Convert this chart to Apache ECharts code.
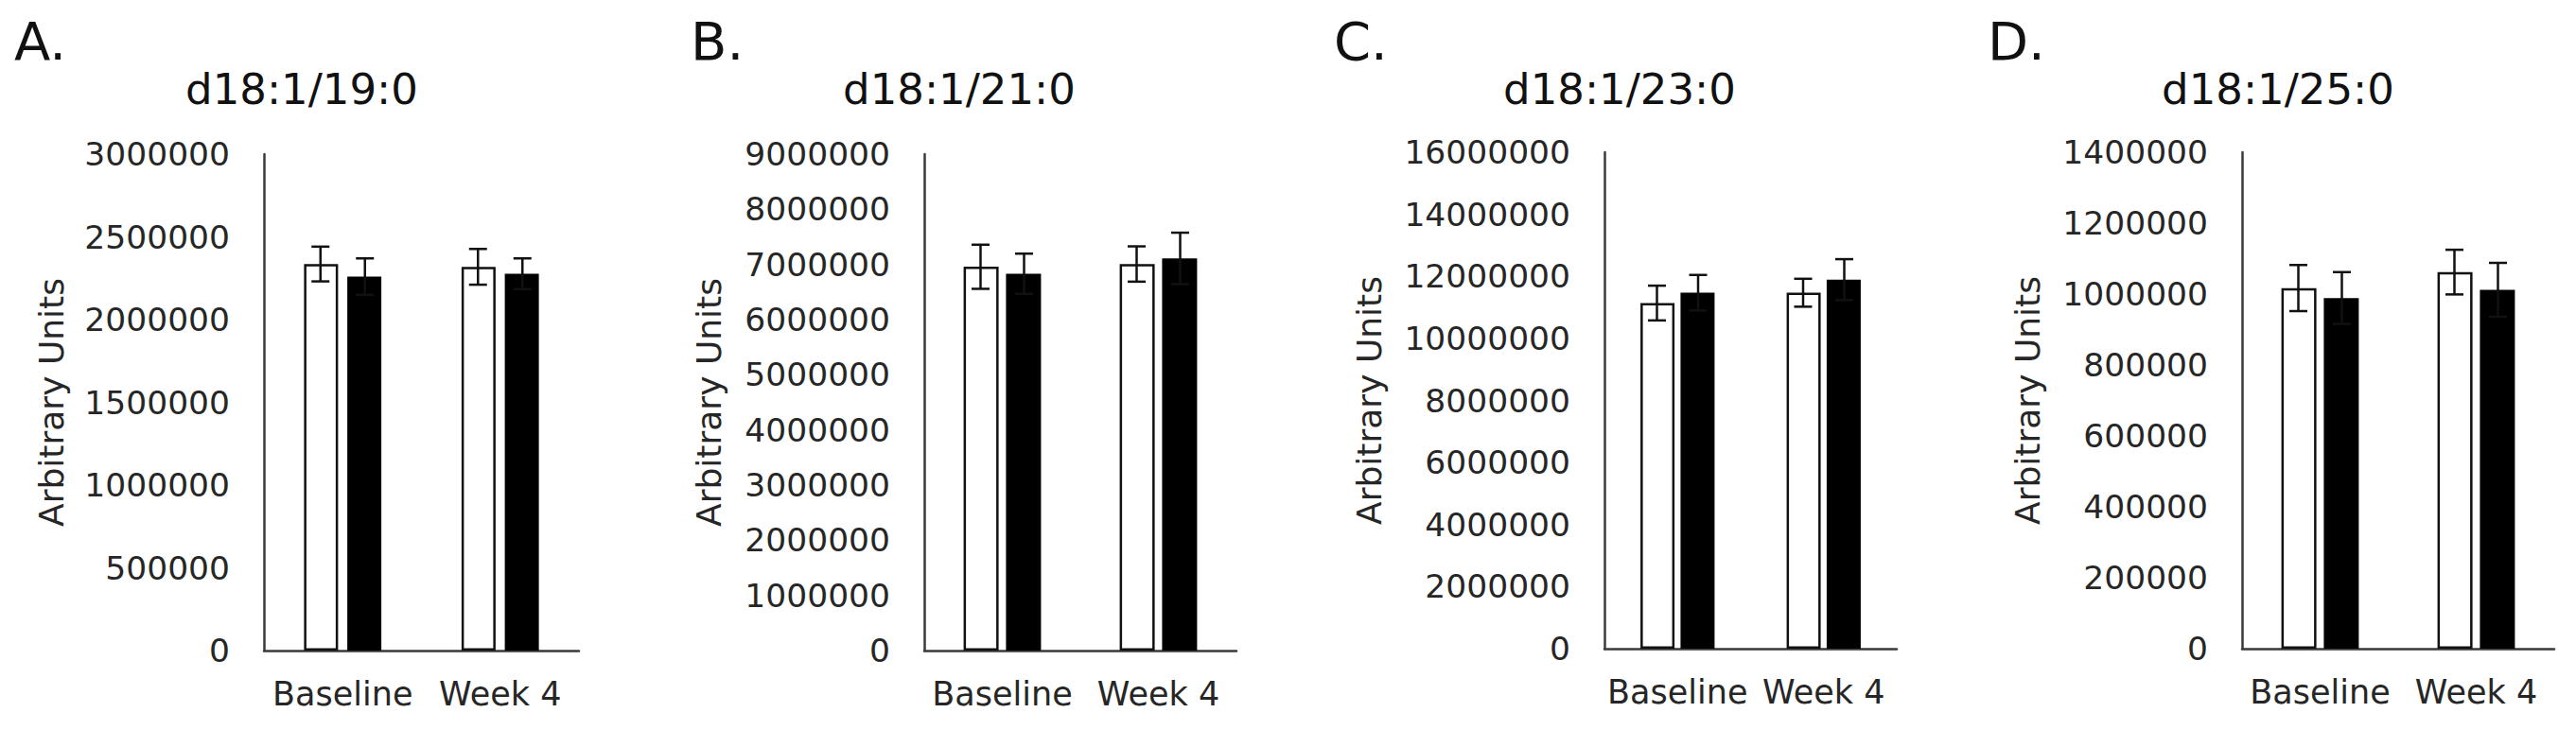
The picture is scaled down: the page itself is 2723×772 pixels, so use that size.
<!DOCTYPE html>
<html>
<head>
<meta charset="utf-8">
<script src="https://cdn.jsdelivr.net/npm/echarts@6/dist/echarts.min.js"></script>
<style>
html,body{margin:0;padding:0;background:#fff;}
#chart{width:2723px;height:772px;}
</style>
</head>
<body>
<div id="chart"></div>
<script>
// ---- data ----
var categories = ['Baseline', 'Week 4'];
var panelLetters = ['A.', 'B.', 'C.', 'D.'];
var panelTitles = ['d18:1/19:0', 'd18:1/21:0', 'd18:1/23:0', 'd18:1/25:0'];
var yAxisName = 'Arbitrary Units';

var yMax = [3000000, 9000000, 16000000, 1400000];
var yInterval = [500000, 1000000, 2000000, 200000];

var whiteA = [2336000, 2319000];
var whiteErrA = [105000, 108000];
var blackA = [2260000, 2277000];
var blackErrA = [110000, 93000];

var whiteB = [6958000, 7008000];
var whiteErrB = [400000, 320000];
var blackB = [6831000, 7110000];
var blackErrB = [365000, 466000];

var whiteC = [11140000, 11472000];
var whiteErrC = [560000, 450000];
var blackC = [11472000, 11894000];
var blackErrC = [573000, 660000];

var whiteD = [1017000, 1062000];
var whiteErrD = [65000, 63000];
var blackD = [989000, 1012000];
var blackErrD = [73000, 76000];

// ---- layout (styles/positions) ----
var panels = [
  {white: whiteA, wErr: whiteErrA, black: blackA, bErr: blackErrA,
   grid: {left: 279, top: 163, width: 333, height: 525}, bw: 37, gap: 10, nameGap: 207,
   letterX: 15, titleX: 319},
  {white: whiteB, wErr: whiteErrB, black: blackB, bErr: blackErrB,
   grid: {left: 977, top: 163, width: 330, height: 525}, bw: 38, gap: 8, nameGap: 210,
   letterX: 730, titleX: 1014},
  {white: whiteC, wErr: whiteErrC, black: blackC, bErr: blackErrC,
   grid: {left: 1696, top: 161, width: 309, height: 525}, bw: 37, gap: 6.5, nameGap: 231,
   letterX: 1410, titleX: 1712},
  {white: whiteD, wErr: whiteErrD, black: blackD, bErr: blackErrD,
   grid: {left: 2370, top: 161, width: 330, height: 525}, bw: 38, gap: 8, nameGap: 209,
   letterX: 2101, titleX: 2408}
];

var FONT = '"DejaVu Sans", Verdana, sans-serif';
var AXIS_COLOR = '#3a3a3a';
var LABEL_COLOR = '#262626';

function errRender(offset) {
  return function (params, api) {
    var ci = api.value(0), v = api.value(1), e = api.value(2);
    var c = api.coord([ci, v]);
    var t = api.coord([ci, v + e]);
    var b = api.coord([ci, v - e]);
    var x = c[0] + offset;
    var hw = 9.5;
    var st = {stroke: '#111', lineWidth: 2.5};
    return {
      type: 'group',
      children: [
        {type: 'line', shape: {x1: x, y1: t[1], x2: x, y2: b[1]}, style: st},
        {type: 'line', shape: {x1: x - hw, y1: t[1], x2: x + hw, y2: t[1]}, style: st},
        {type: 'line', shape: {x1: x - hw, y1: b[1], x2: x + hw, y2: b[1]}, style: st}
      ]
    };
  };
}

var grids = [], xAxes = [], yAxes = [], series = [], graphics = [];
panels.forEach(function (p, i) {
  grids.push(p.grid);
  xAxes.push({
    type: 'category', gridIndex: i, data: categories,
    axisTick: {show: false},
    axisLine: {lineStyle: {color: AXIS_COLOR, width: 2.5}},
    axisLabel: {fontSize: 35, fontFamily: FONT, color: LABEL_COLOR, margin: 28, interval: 0}
  });
  yAxes.push({
    type: 'value', gridIndex: i, min: 0, max: yMax[i], interval: yInterval[i],
    splitLine: {show: false},
    axisTick: {show: false},
    axisLine: {show: true, lineStyle: {color: AXIS_COLOR, width: 2.5}},
    axisLabel: {fontSize: 34.5, fontFamily: FONT, color: LABEL_COLOR, margin: 36,
                formatter: function (v) { return String(v); }},
    name: yAxisName, nameLocation: 'middle', nameRotate: 90, nameGap: p.nameGap,
    nameTextStyle: {fontSize: 36, fontFamily: FONT, color: LABEL_COLOR}
  });
  var gapPct = (p.gap / p.bw * 100).toFixed(1) + '%';
  series.push({
    type: 'bar', xAxisIndex: i, yAxisIndex: i, data: p.white,
    barWidth: p.bw - 1, barGap: gapPct,
    itemStyle: {color: '#fff', borderColor: '#111', borderWidth: 2.5},
    silent: true
  });
  series.push({
    type: 'bar', xAxisIndex: i, yAxisIndex: i, data: p.black,
    barWidth: p.bw - 1, barGap: gapPct,
    itemStyle: {color: '#000'},
    silent: true
  });
  var off = (p.bw + p.gap) / 2;
  series.push({
    type: 'custom', xAxisIndex: i, yAxisIndex: i, z: 5,
    data: p.white.map(function (v, k) { return [k, v, p.wErr[k]]; }),
    encode: {x: 0, y: 1},
    renderItem: errRender(-off), silent: true
  });
  series.push({
    type: 'custom', xAxisIndex: i, yAxisIndex: i, z: 5,
    data: p.black.map(function (v, k) { return [k, v, p.bErr[k]]; }),
    encode: {x: 0, y: 1},
    renderItem: errRender(off), silent: true
  });
  graphics.push({
    type: 'text', x: p.letterX, y: 43,
    style: {text: panelLetters[i], fontSize: 56, fontFamily: FONT, fill: '#111',
            textAlign: 'left', textVerticalAlign: 'middle', align: 'left', verticalAlign: 'middle'}
  });
  graphics.push({
    type: 'text', x: p.titleX, y: 94,
    style: {text: panelTitles[i], fontSize: 45, fontFamily: FONT, fill: '#111',
            textAlign: 'center', textVerticalAlign: 'middle', align: 'center', verticalAlign: 'middle'}
  });
});

var chart = echarts.init(document.getElementById('chart'), null, {renderer: 'svg'});
chart.setOption({
  animation: false,
  backgroundColor: '#fff',
  grid: grids,
  xAxis: xAxes,
  yAxis: yAxes,
  series: series,
  graphic: graphics
});
</script>
</body>
</html>
